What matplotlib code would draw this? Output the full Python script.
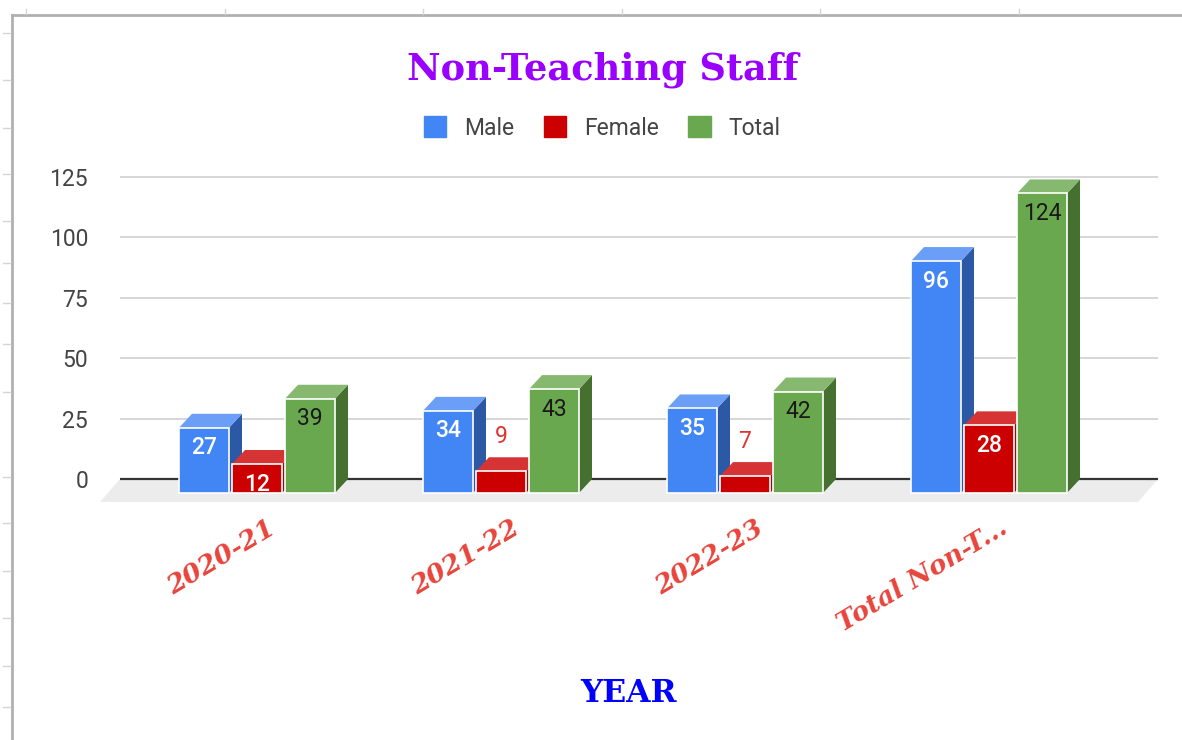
import matplotlib.pyplot as plt
from matplotlib.patches import Polygon, Patch
from matplotlib.lines import Line2D

plt.rcParams['font.family'] = ['Roboto', 'DejaVu Sans']

# data
years = ['2020-21', '2021-22', '2022-23', 'Total Non-T...']
male = [27, 34, 35, 96]
female = [12, 9, 7, 28]
total = [39, 43, 42, 124]
series = ['Male', 'Female', 'Total']
yticks = [0, 25, 50, 75, 100, 125]

# front / top / side colours for the fake 3d columns
front_cols = ['#4285f4', '#cc0000', '#6aa84f']
top_cols = ['#6b9ef6', '#d63434', '#86b96f']
side_cols = ['#2c59a6', '#8e0e0e', '#46702f']
label_cols = ['white', 'white', '#1a1a1a']

W, H = 1182, 740
fig = plt.figure(figsize=(W / 100, H / 100), dpi=100)

# layout in screen pixels
x0_px, x1_px = 120, 1158
zero_px = 479
ppu = 2.416          # pixels per unit on y
grp_px = 244         # distance between groups
first_px = 257       # centre of first group (front faces)
ylo, yhi = -14, 130

top_px = zero_px - yhi * ppu
bot_px = zero_px - ylo * ppu
ax = fig.add_axes([x0_px / W, 1 - bot_px / H, (x1_px - x0_px) / W, (bot_px - top_px) / H])
xlo, xhi = (x0_px - first_px) / grp_px, (x1_px - first_px) / grp_px
ax.set_xlim(xlo, xhi)
ax.set_ylim(ylo, yhi)

bw = 50 / grp_px
step = 53 / grp_px
dx = 13 / grp_px
dy = 14 / ppu

# grid + floor
ax.set_yticks(yticks)
ax.yaxis.grid(True, color='#d0d0d0', lw=1.2, zorder=0)
ax.set_axisbelow(True)
ax.axhline(0, color='#333333', lw=1.6, zorder=2)
fdx, fdy = 20 / grp_px, 23 / ppu
floor = Polygon([(xlo, 0), (xhi, 0), (xhi - fdx, -fdy), (xlo - fdx, -fdy)],
                fc='#ececec', ec='none', zorder=1, clip_on=False)
ax.add_patch(floor)

for j, vals in enumerate([male, female, total]):
    for i, v in enumerate(vals):
        xl = i + (j - 1) * step - bw / 2
        xr = xl + bw
        yb, yt = -dy, v - dy
        ax.add_patch(Polygon([(xr, yb), (xr + dx, 0), (xr + dx, v), (xr, yt)],
                             fc=side_cols[j], ec='none', zorder=3))
        ax.add_patch(Polygon([(xl, yt), (xr, yt), (xr + dx, v), (xl + dx, v)],
                             fc=top_cols[j], ec='none', zorder=3))
        ax.add_patch(Polygon([(xl, yb), (xr, yb), (xr, yt), (xl, yt)],
                             fc=front_cols[j], ec='white', lw=1.2, zorder=3))
        xc = (xl + xr) / 2
        if v * ppu > 25:
            ax.text(xc, v - dy - 20 / ppu, str(v), ha='center', va='center',
                    fontsize=16.5, color=label_cols[j], zorder=5,
                    weight='medium' if j < 2 else 'normal')
        else:
            ax.text(xc, v + 21 / ppu, str(v), ha='center', va='center',
                    fontsize=16.5, color='#e03434', zorder=5)

for i, lab in enumerate(years):
    ax.text(i + 16 / grp_px, -47 / ppu, lab, rotation=31, rotation_mode='anchor',
            ha='right', va='center', fontsize=19, color='#e8453c',
            family='DejaVu Serif', weight='bold', style='italic', clip_on=False)

ax.set_xticks([])
ax.tick_params(axis='y', length=0, pad=23, labelsize=16.5, labelcolor='#444444')
for s in ax.spines.values():
    s.set_visible(False)

fig.text(603 / W, 1 - 70 / H, 'Non-Teaching Staff', ha='center', va='center',
         color='#9900ff', fontsize=26.5, family='DejaVu Serif', weight='bold')
fig.text(628 / W, 1 - 693 / H, 'YEAR', ha='center', va='center',
         color='#0000ff', fontsize=22.5, family='DejaVu Serif', weight='bold')

handles = [Patch(fc=c, ec=c) for c in front_cols]
fig.legend(handles, series, loc='center', bbox_to_anchor=(602 / W, 1 - 128 / H),
           ncol=3, frameon=False, fontsize=16.5, handlelength=1.0, handleheight=1.0,
           handletextpad=0.75, columnspacing=1.3, labelcolor='#444444')

# spreadsheet cells peeking out around the chart
def px_line(xs, ys, **kw):
    fig.add_artist(Line2D([x / W for x in xs], [1 - y / H for y in ys],
                          transform=fig.transFigure, **kw))

px_line([12, W], [15, 15], color='#b0b0b0', lw=2)
px_line([12, 12], [15, H], color='#b0b0b0', lw=2)
for x in [26, 225, 423, 622, 820, 1019]:
    px_line([x, x], [9, 14], color='#d5d5d5', lw=1)
for y in [33, 80, 128, 174, 221, 263, 303, 344, 392, 477, 523, 571, 618, 666, 707]:
    px_line([3, 10], [y, y], color='#d5d5d5', lw=1)

fig.savefig('out.png', dpi=100)
